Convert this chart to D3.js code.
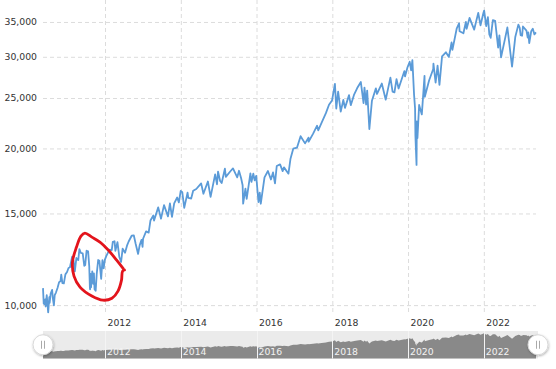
<!DOCTYPE html>
<html>
<head>
<meta charset="utf-8">
<script src="https://cdn.jsdelivr.net/npm/d3@7"></script>
<style>
  body { margin: 0; background: #fff; }
  text { font-family: "DejaVu Sans", Verdana, sans-serif; }
</style>
</head>
<body>
<svg id="chart" width="556" height="369"></svg>
<script>
// Dow Jones daily close (thinned)
var dow2010 = [["2010-05-13",10782],["2010-05-20",10068],["2010-05-26",10043],["2010-06-03",10255],["2010-06-08",9940],["2010-06-18",10450],["2010-06-30",9774],["2010-07-02",9686],["2010-07-13",10364],["2010-07-16",10097],["2010-07-26",10525],["2010-08-09",10698],["2010-08-16",10303],["2010-08-26",9985],["2010-09-03",10448],["2010-09-15",10572],["2010-09-30",10788],["2010-10-15",11062],["2010-10-29",11118],["2010-11-05",11444],["2010-11-16",11023],["2010-11-30",11006],["2010-12-15",11457],["2010-12-31",11577]];
var dow2011 = [["2011-01-14",11787],["2011-01-28",11823],["2011-02-18",12391],["2011-03-04",12169],["2011-03-16",11613],["2011-03-31",12319],["2011-04-18",12201],["2011-04-29",12810],["2011-05-13",12595],["2011-05-31",12569],["2011-06-15",11897],["2011-06-24",11934],["2011-07-07",12719],["2011-07-22",12681],["2011-08-02",11866],["2011-08-08",10809],["2011-08-10",10719],["2011-08-15",11482],["2011-08-19",10817],["2011-08-31",11613],["2011-09-09",10992],["2011-09-16",11509],["2011-09-22",10733],["2011-10-03",10655],["2011-10-13",11478],["2011-10-27",12208],["2011-11-08",12170],["2011-11-25",11231],["2011-12-07",12196],["2011-12-19",11766],["2011-12-30",12217]];
var dow2012 = [["2012-01-13",12422],["2012-01-31",12632],["2012-02-15",12780],["2012-03-06",12759],["2012-03-16",13232],["2012-04-02",13264],["2012-04-10",12715],["2012-04-30",13213],["2012-05-18",12369],["2012-06-04",12101],["2012-06-19",12837],["2012-07-12",12604],["2012-07-31",13008],["2012-08-16",13250],["2012-09-14",13593],["2012-10-05",13610],["2012-10-23",13102],["2012-11-15",12542],["2012-11-30",13025],["2012-12-18",13350],["2012-12-28",12938]];
var dow2013 = [["2013-01-02",13412],["2013-01-31",13860],["2013-02-25",13784],["2013-03-14",14539],["2013-04-11",14865],["2013-04-18",14537],["2013-05-28",15409],["2013-06-24",14659],["2013-07-23",15567],["2013-08-30",14810],["2013-09-18",15676],["2013-10-08",14776],["2013-10-29",15680],["2013-11-27",16097],["2013-12-13",15755],["2013-12-31",16577]];
var dow2014 = [["2014-01-15",16481],["2014-02-03",15372],["2014-03-07",16452],["2014-03-14",16065],["2014-04-11",16027],["2014-04-30",16580],["2014-05-30",16717],["2014-07-16",17138],["2014-08-07",16368],["2014-09-19",17279],["2014-10-15",16141],["2014-11-28",17828],["2014-12-16",17068],["2014-12-26",18053]];
var dow2015 = [["2015-01-15",17320],["2015-01-30",17165],["2015-03-02",18288],["2015-03-11",17635],["2015-04-24",18080],["2015-05-19",18312],["2015-06-29",17596],["2015-07-16",18120],["2015-08-05",17550],["2015-08-20",16990],["2015-08-25",15666],["2015-09-16",16739],["2015-09-28",16001],["2015-11-03",17918],["2015-11-13",17245],["2015-12-01",17888],["2015-12-14",17368],["2015-12-29",17720]];
var dow2016 = [["2016-01-20",15766],["2016-02-01",16449],["2016-02-11",15660],["2016-03-18",17602],["2016-04-20",18096],["2016-05-19",17435],["2016-06-08",17985],["2016-06-27",17140],["2016-07-14",18506],["2016-08-15",18636],["2016-09-09",18085],["2016-09-22",18392],["2016-11-04",17888],["2016-11-23",19083],["2016-12-20",19975]];
var dow2017 = [["2017-01-25",20068],["2017-03-01",21115],["2017-04-13",20453],["2017-05-16",20979],["2017-05-17",20606],["2017-06-30",21350],["2017-08-07",22118],["2017-08-18",21675],["2017-09-20",22412],["2017-10-31",23377],["2017-11-30",24272],["2017-12-29",24719]];
var dow2018 = [["2018-01-26",26617],["2018-02-08",23860],["2018-02-26",25710],["2018-03-23",23533],["2018-04-17",24786],["2018-05-03",23930],["2018-06-11",25322],["2018-06-28",24216],["2018-07-31",25415],["2018-08-29",26124],["2018-10-03",26828],["2018-10-29",24443],["2018-11-07",26180],["2018-11-23",24286],["2018-12-03",25826],["2018-12-24",21792]];
var dow2019 = [["2019-01-18",24706],["2019-02-25",26091],["2019-03-08",25450],["2019-04-23",26656],["2019-05-31",24815],["2019-07-15",27359],["2019-08-05",25718],["2019-08-23",25628],["2019-09-12",27182],["2019-10-02",26078],["2019-11-27",28164],["2019-12-03",27503],["2019-12-27",28645]];
var dow2020 = [["2020-01-17",29348],["2020-01-31",28256],["2020-02-12",29551],["2020-02-28",25409],["2020-03-09",23851],["2020-03-12",21200],["2020-03-16",20189],["2020-03-23",18591],["2020-03-26",22552],["2020-04-01",20943],["2020-04-17",24242],["2020-05-13",23248],["2020-06-08",27572],["2020-06-11",25128],["2020-07-22",27005],["2020-08-31",28430],["2020-09-02",29100],["2020-09-23",26763],["2020-10-12",28838],["2020-10-30",26502],["2020-11-24",30046],["2020-12-31",30606]];
var dow2021 = [["2021-01-29",29983],["2021-02-24",31961],["2021-03-04",30924],["2021-04-15",34035],["2021-05-07",34778],["2021-05-12",33587],["2021-06-18",33290],["2021-07-12",34996],["2021-07-19",33962],["2021-08-16",35625],["2021-09-30",33844],["2021-11-08",36432],["2021-11-30",34484],["2021-12-29",36488]];
var dow2022 = [["2022-01-04",36799],["2022-01-24",34365],["2022-02-09",35768],["2022-02-23",33132],["2022-03-08",32632],["2022-03-29",35294],["2022-04-20",35160],["2022-05-19",31253],["2022-05-31",32990],["2022-06-16",29927],["2022-07-29",32845],["2022-08-16",34152],["2022-09-30",28725],["2022-10-31",32733],["2022-11-30",34590],["2022-12-13",34108],["2022-12-22",33028]];
var dow2023 = [["2023-01-05",32930],["2023-01-13",34303],["2023-02-16",33696],["2023-02-28",32657],["2023-03-06",33431],["2023-03-15",31874],["2023-04-03",33601],["2023-04-18",33977],["2023-05-04",33128],["2023-05-12",33300],["2023-05-19",33427]];

var yTicks = [10000, 15000, 20000, 25000, 30000, 35000];
var xTickYears = [2012, 2014, 2016, 2018, 2020, 2022];

// hand drawn red loop round the 2011 dip, in date/value space
var circleNote = [["2012-06-25",11750],["2012-04-22",12200],["2012-02-01",12760],["2011-11-13",13220],["2011-08-27",13510],["2011-06-21",13750],["2011-05-14",13570],["2011-04-01",12930],["2011-02-21",12100],["2011-03-08",11370],["2011-05-05",10830],["2011-08-27",10410],["2011-12-12",10220],["2012-03-08",10310],["2012-05-05",10640],["2012-06-08",11170],["2012-06-18",11620],["2012-07-07",11680]];

var parse = d3.timeParse("%Y-%m-%d");
var data = [].concat(dow2010, dow2011, dow2012, dow2013, dow2014, dow2015, dow2016,
  dow2017, dow2018, dow2019, dow2020, dow2021, dow2022, dow2023)
  .map(function (d) { return { date: parse(d[0]), value: d[1] }; });

var plotLeft = 43, plotRight = 536, plotTop = 0, plotBottom = 312;
var navTop = 331, navBottom = 358.5;

var svg = d3.select("#chart");

var x = d3.scaleTime().domain(d3.extent(data, function (d) { return d.date; })).range([plotLeft, plotRight]);
var y = d3.scaleLog().domain([9700, 38570]).range([plotBottom, plotTop]);
var yNav = d3.scaleLinear().domain([0, 40000]).range([navBottom, navTop]);

var tickDates = xTickYears.map(function (yr) { return new Date(yr, 0, 1); });

// y axis + horizontal grid
var yAxis = svg.append("g")
  .attr("transform", "translate(" + plotLeft + ",0)")
  .call(d3.axisLeft(y).tickValues(yTicks).tickFormat(d3.format(",")).tickSize(-(plotRight - plotLeft)).tickPadding(6));
yAxis.select(".domain").remove();
yAxis.selectAll("line").attr("stroke", "#dcdcdc").attr("stroke-dasharray", "4,3");
yAxis.selectAll("text").attr("fill", "#333").attr("font-size", "9.3px")
  .attr("font-family", "DejaVu Sans, Verdana, sans-serif");

// x axis + vertical grid
var xAxis = svg.append("g")
  .attr("transform", "translate(0," + plotBottom + ")")
  .call(d3.axisBottom(x).tickValues(tickDates).tickFormat(d3.timeFormat("%Y")).tickSize(-(plotBottom - plotTop)));
xAxis.select(".domain").remove();
xAxis.selectAll("line").attr("stroke", "#dcdcdc").attr("stroke-dasharray", "4,3");
xAxis.selectAll("text").attr("fill", "#333").attr("font-size", "9.3px")
  .attr("font-family", "DejaVu Sans, Verdana, sans-serif")
  .attr("text-anchor", "start").attr("x", 2).attr("y", 14).attr("dy", 0);

// the series
var line = d3.line()
  .x(function (d) { return x(d.date); })
  .y(function (d) { return y(d.value); });

svg.append("path")
  .datum(data)
  .attr("fill", "none")
  .attr("stroke", "#5b9bd8")
  .attr("stroke-width", 1.8)
  .attr("stroke-linejoin", "round")
  .attr("d", line);

// red loop
var note = d3.line()
  .x(function (d) { return x(parse(d[0])); })
  .y(function (d) { return y(d[1]); })
  .curve(d3.curveCatmullRom);

svg.append("path")
  .datum(circleNote)
  .attr("fill", "none")
  .attr("stroke", "#e3141c")
  .attr("stroke-width", 2.8)
  .attr("stroke-linecap", "round")
  .attr("stroke-linejoin", "round")
  .attr("d", note);

// navigator
var navRight = plotRight + 2;
svg.append("rect")
  .attr("x", plotLeft).attr("y", navTop)
  .attr("width", navRight - plotLeft).attr("height", navBottom - navTop)
  .attr("fill", "#ebebeb");

var navArea = d3.area()
  .x(function (d) { return x(d.date); })
  .y0(navBottom)
  .y1(function (d) { return yNav(d.value); });

svg.append("path")
  .datum(data)
  .attr("fill", "#898989")
  .attr("d", navArea);

var navTicks = svg.append("g");
navTicks.selectAll("line")
  .data(tickDates)
  .enter()
  .append("line")
  .attr("x1", function (d) { return Math.round(x(d)) + 0.5; })
  .attr("x2", function (d) { return Math.round(x(d)) + 0.5; })
  .attr("y1", navTop).attr("y2", navBottom)
  .attr("stroke", "#f4f4f4");
navTicks.selectAll("text")
  .data(tickDates)
  .enter()
  .append("text")
  .attr("x", function (d) { return x(d) + 2; })
  .attr("y", 355)
  .attr("fill", "#f2f2f2")
  .attr("font-size", "9.3px")
  .text(d3.timeFormat("%Y"));

// handles
var defs = svg.append("defs");
defs.append("filter").attr("id", "shadow")
  .attr("x", "-50%").attr("y", "-50%").attr("width", "200%").attr("height", "200%")
  .append("feDropShadow")
  .attr("dx", 0.5).attr("dy", 1).attr("stdDeviation", 1.2)
  .attr("flood-color", "#000").attr("flood-opacity", 0.3);

var handles = svg.selectAll(".handle")
  .data([plotLeft, navRight])
  .enter()
  .append("g")
  .attr("class", "handle")
  .attr("transform", function (d) { return "translate(" + d + "," + (navTop + navBottom) / 2 + ")"; });
handles.append("circle")
  .attr("r", 10)
  .attr("fill", "#fff")
  .attr("stroke", "#d8d8d8")
  .attr("filter", "url(#shadow)");
handles.selectAll("line")
  .data([-1.5, 1.5])
  .enter()
  .append("line")
  .attr("x1", function (d) { return d; }).attr("x2", function (d) { return d; })
  .attr("y1", -4).attr("y2", 4)
  .attr("stroke", "#aaa");
</script>
</body>
</html>
